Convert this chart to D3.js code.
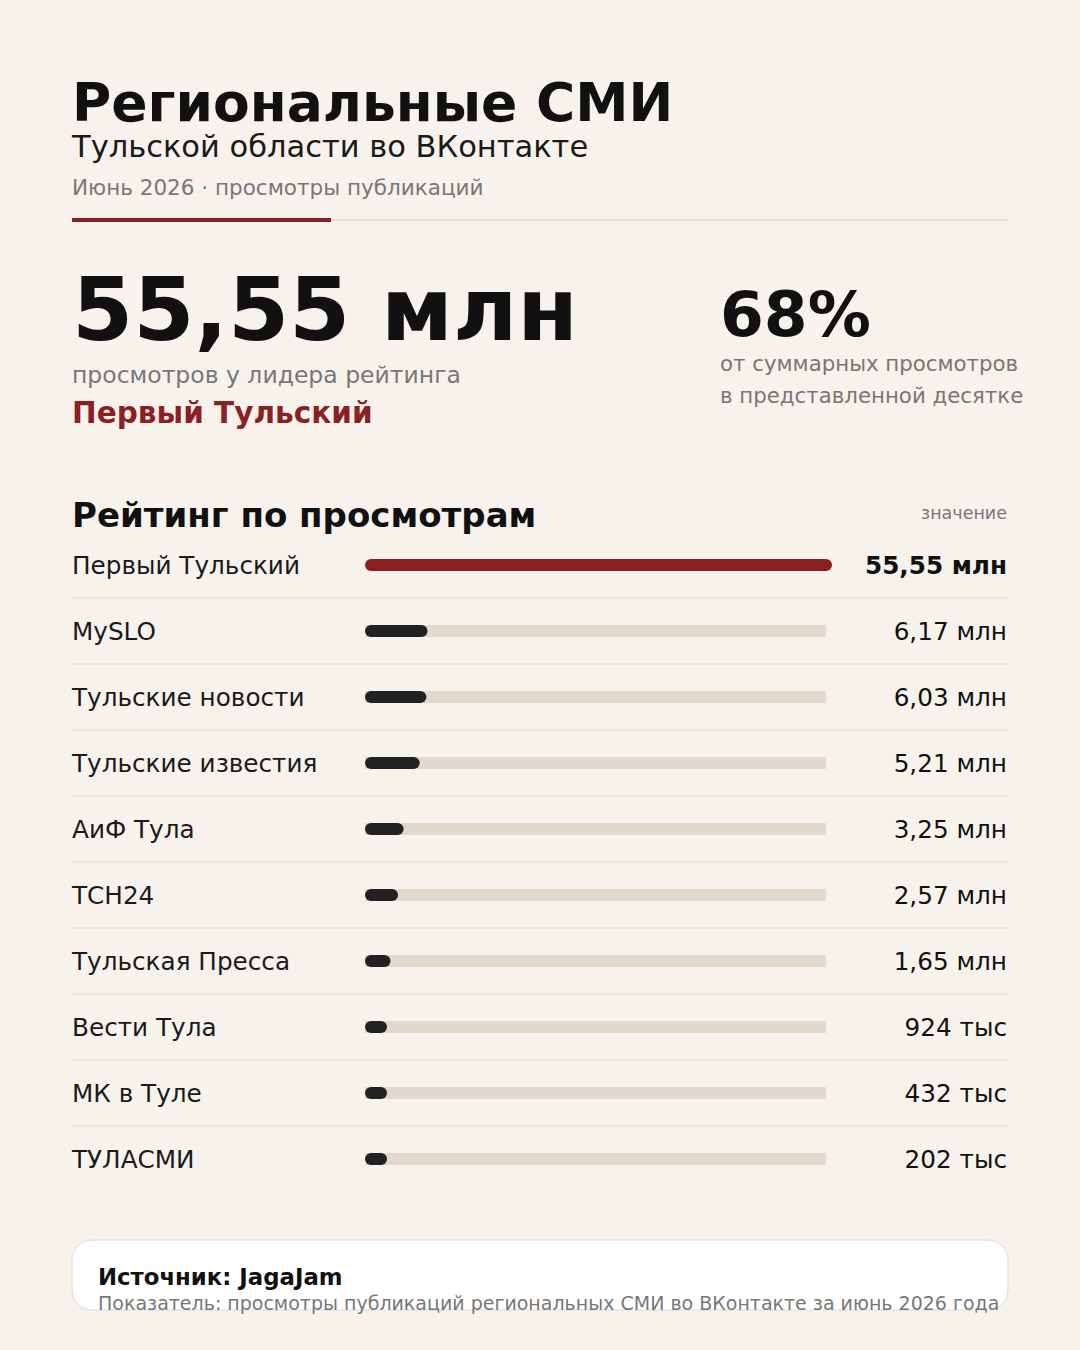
<!DOCTYPE html>
<html><head><meta charset="utf-8">
<script src="https://cdn.jsdelivr.net/npm/d3@7"></script>
<style>body{margin:0;background:#f7f3ec;}svg{display:block;font-family:"DejaVu Sans",sans-serif;}</style>
</head><body><svg width="1080" height="1350"></svg>
<script>
const names = ['Первый Тульский', 'MySLO', 'Тульские новости', 'Тульские известия', 'АиФ Тула', 'ТСН24', 'Тульская Пресса', 'Вести Тула', 'МК в Туле', 'ТУЛАСМИ'];
const values = [55.55, 6.17, 6.03, 5.21, 3.25, 2.57, 1.65, 0.924, 0.432, 0.202];
const labels = ['55,55 млн', '6,17 млн', '6,03 млн', '5,21 млн', '3,25 млн', '2,57 млн', '1,65 млн', '924 тыс', '432 тыс', '202 тыс'];

const RED = '#8b1f24', DARK = '#222', GRAY = '#777';
const svg = d3.select('svg');
svg.append('rect').attr('width', 1080).attr('height', 1350).attr('fill', '#f7f3ec');

function text(x, y, s, size, fill, weight, anchor) {
    return svg.append('text').attr('x', x).attr('y', y).text(s)
        .attr('font-size', size).attr('fill', fill)
        .attr('font-weight', weight || 'normal')
        .attr('text-anchor', anchor || 'start');
}

// Заголовок
text(72, 121, 'Региональные СМИ', 53.5, '#111', 'bold');
text(72, 157, 'Тульской области во ВКонтакте', 30.5, '#1a1a1a');
text(72, 195, 'Июнь 2026 · просмотры публикаций', 21.5, GRAY);
svg.append('line').attr('x1', 72).attr('x2', 1008).attr('y1', 220).attr('y2', 220).attr('stroke', '#ddd6ca').attr('stroke-width', 1.5);
svg.append('line').attr('x1', 72).attr('x2', 331).attr('y1', 220).attr('y2', 220).attr('stroke', RED).attr('stroke-width', 4);

// Ключевые цифры
text(72, 340, '55,55 млн', 88, '#111', 'bold');
text(72, 383, 'просмотров у лидера рейтинга', 23.5, GRAY);
text(72, 423, 'Первый Тульский', 29.5, RED, 'bold');
text(720, 336, '68%', 63, '#111', 'bold');
text(720, 371, 'от суммарных просмотров', 21.3, GRAY);
text(720, 403, 'в представленной десятке', 21.3, GRAY);

// Рейтинг
text(72, 527, 'Рейтинг по просмотрам', 34, '#111', 'bold');
text(1007, 519, 'значение', 17.5, GRAY, 'normal', 'end');

const y = d3.scaleBand().domain(names).range([532, 1192]);
const x = d3.scaleLinear().domain([0, d3.max(values)]).range([0, 455]);
const X0 = 371, TRACK_END = 826;

names.forEach(function (n, i) {
    const cy = y(n) + y.bandwidth() / 2;
    if (i < names.length - 1) {
        svg.append('line').attr('x1', 72).attr('x2', 1008)
            .attr('y1', y(n) + y.bandwidth()).attr('y2', y(n) + y.bandwidth())
            .attr('stroke', '#e4ddd2').attr('stroke-width', 1.2);
    }
    if (i > 0) {
        svg.append('rect').attr('x', 365).attr('y', cy - 6).attr('width', TRACK_END - 365).attr('height', 12).attr('fill', '#e2d9ce');
    }
    svg.append('line').attr('x1', X0).attr('x2', X0 + Math.max(x(values[i]), 10))
        .attr('y1', cy).attr('y2', cy)
        .attr('stroke', i === 0 ? RED : DARK).attr('stroke-width', 12).attr('stroke-linecap', 'round');
    text(72, cy + 9, n, 24.7, '#1a1a1a');
    text(1007, cy + 9, labels[i], 24.7, '#111', i === 0 ? 'bold' : 'normal', 'end');
});

// Источник
svg.append('rect').attr('x', 72).attr('y', 1240).attr('width', 936).attr('height', 70).attr('rx', 20)
    .attr('fill', '#fff').attr('stroke', '#e0d9cd');
text(98, 1285, 'Источник: JagaJam', 22.8, '#111', 'bold');
text(98, 1310, 'Показатель: просмотры публикаций региональных СМИ во ВКонтакте за июнь 2026 года', 19, GRAY);
</script></body></html>
